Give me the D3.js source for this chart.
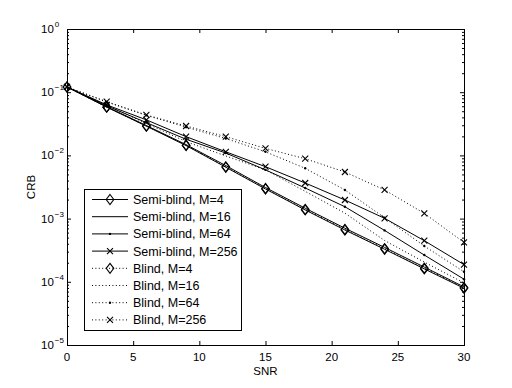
<!DOCTYPE html>
<html><head><meta charset="utf-8">
<script src="https://cdn.jsdelivr.net/npm/d3@7"></script>
<style>body{margin:0;background:#fff}svg{display:block}text{font-family:"Liberation Sans",Arial,sans-serif;fill:#000}</style>
</head><body><div id="c"></div>
<script>
const snr = [0, 3, 6, 9, 12, 15, 18, 21, 24, 27, 30];
const semiM4   = [0.121, 0.058, 0.029, 0.0143, 0.0065, 0.00294, 0.00137, 6.6e-4, 3.27e-4, 1.6e-4, 7.9e-5];
const semiM16  = [0.121, 0.059, 0.0297, 0.0148, 0.0069, 0.0031, 0.00146, 7.05e-4, 3.5e-4, 1.71e-4, 8.3e-5];
const semiM64  = [0.121, 0.061, 0.033, 0.018, 0.0109, 0.0059, 0.00305, 0.00154, 6.5e-4, 2.65e-4, 1.1e-4];
const semiM256 = [0.121, 0.063, 0.0365, 0.0198, 0.0114, 0.00662, 0.00366, 0.00197, 0.00101, 4.47e-4, 1.87e-4];
const blindM4   = [0.121, 0.058, 0.0292, 0.0145, 0.0066, 0.003, 0.0014, 6.75e-4, 3.35e-4, 1.65e-4, 8.1e-5];
const blindM16  = [0.121, 0.062, 0.032, 0.0165, 0.0098, 0.0059, 0.0027, 0.00122, 4.5e-4, 2.05e-4, 9.6e-5];
const blindM64  = [0.121, 0.07, 0.043, 0.028, 0.0185, 0.0114, 0.00625, 0.00284, 0.00103, 3.68e-4, 1.44e-4];
const blindM256 = [0.121, 0.0708, 0.0436, 0.0292, 0.0198, 0.0129, 0.00887, 0.00546, 0.00284, 0.00121, 4.2e-4];
const seriesNames = ["Semi-blind, M=4","Semi-blind, M=16","Semi-blind, M=64","Semi-blind, M=256","Blind, M=4","Blind, M=16","Blind, M=64","Blind, M=256"];
const xTicks = [0, 5, 10, 15, 20, 25, 30];
const yExps = [0, -1, -2, -3, -4, -5];

const series = [
  {name: seriesNames[0], v: semiM4, dash: null, m: "diamond"},
  {name: seriesNames[1], v: semiM16, dash: null, m: null},
  {name: seriesNames[2], v: semiM64, dash: null, m: "dot"},
  {name: seriesNames[3], v: semiM256, dash: null, m: "x"},
  {name: seriesNames[4], v: blindM4, dash: "1,2.4", m: "diamond"},
  {name: seriesNames[5], v: blindM16, dash: "1,2.4", m: null},
  {name: seriesNames[6], v: blindM64, dash: "1,2.4", m: "dot"},
  {name: seriesNames[7], v: blindM256, dash: "1,2.4", m: "x"}
];

const W = 512, H = 388;
const L = 67, R = 464, T = 29, B = 345;
const svg = d3.select("#c").append("svg").attr("width", W).attr("height", H);
const x = d3.scaleLinear().domain([0, 30]).range([L, R]);
const y = d3.scaleLog().domain([1e-5, 1]).range([B, T]);

// axes ticks
const g = svg.append("g");
const minor = [];
for (let e = -5; e < 0; e++) for (let k = 2; k <= 9; k++) minor.push(k * Math.pow(10, e));
g.append("g").attr("transform", `translate(${L},0)`).call(d3.axisRight(y).tickValues(yExps.map(e => Math.pow(10, e))).tickSize(4).tickFormat(""));
g.append("g").attr("transform", `translate(${R},0)`).call(d3.axisLeft(y).tickValues(yExps.map(e => Math.pow(10, e))).tickSize(4).tickFormat(""));
g.append("g").attr("transform", `translate(${L},0)`).call(d3.axisRight(y).tickValues(minor).tickSize(2).tickFormat(""));
g.append("g").attr("transform", `translate(${R},0)`).call(d3.axisLeft(y).tickValues(minor).tickSize(2).tickFormat(""));
g.append("g").attr("transform", `translate(0,${B})`).call(d3.axisTop(x).tickValues(xTicks).tickSize(4).tickFormat(""));
g.append("g").attr("transform", `translate(0,${T})`).call(d3.axisBottom(x).tickValues(xTicks).tickSize(4).tickFormat(""));
g.selectAll(".domain").remove();
g.selectAll(".tick line").attr("stroke", "#000").attr("stroke-width", 1);

svg.append("rect").attr("x", L + 0.5).attr("y", T + 0.5).attr("width", R - L).attr("height", B - T)
  .attr("fill", "none").attr("stroke", "#000").attr("stroke-width", 1);

// tick labels
xTicks.forEach(t => {
  svg.append("text").attr("x", x(t)).attr("y", B + 16).attr("text-anchor", "middle").attr("font-size", 11.5).text(t);
});
yExps.forEach(e => {
  const yy = y(Math.pow(10, e));
  const t = svg.append("text").attr("x", 41).attr("y", yy + 4).attr("font-size", 11.5);
  t.append("tspan").text("10");
  t.append("tspan").attr("dy", -6).attr("dx", 1).attr("font-size", 8).text(e === 0 ? "0" : "\u2212" + (-e));
});
svg.append("text").attr("x", x(15)).attr("y", 375).attr("text-anchor", "middle").attr("font-size", 11.5).text("SNR");
svg.append("text").attr("transform", "translate(35,187) rotate(-90)").attr("text-anchor", "middle").attr("font-size", 11.5).text("CRB");

// lines
const line = d3.line().x((d, i) => x(snr[i])).y(d => y(d));
function marker(sel, type, cx, cy) {
  if (type === "diamond") {
    sel.append("path").attr("d", `M${cx},${cy - 5}L${cx + 3.8},${cy}L${cx},${cy + 5}L${cx - 3.8},${cy}Z`)
      .attr("fill", "none").attr("stroke", "#000").attr("stroke-width", 1.1);
  } else if (type === "x") {
    sel.append("path").attr("d", `M${cx - 3},${cy - 3}L${cx + 3},${cy + 3}M${cx - 3},${cy + 3}L${cx + 3},${cy - 3}`)
      .attr("stroke", "#000").attr("stroke-width", 1.1);
  } else if (type === "dot") {
    sel.append("circle").attr("cx", cx).attr("cy", cy).attr("r", 1.2).attr("fill", "#000");
  }
}
const plot = svg.append("g");
series.forEach(s => {
  plot.append("path").attr("d", line(s.v)).attr("fill", "none").attr("stroke", "#000")
    .attr("stroke-width", 1).attr("stroke-dasharray", s.dash);
  if (s.m) s.v.forEach((v, i) => marker(plot, s.m, x(snr[i]), y(v)));
});

// legend
const lg = svg.append("g");
lg.append("rect").attr("x", 84.5).attr("y", 189.5).attr("width", 157).attr("height", 141)
  .attr("fill", "#fff").attr("stroke", "#000").attr("stroke-width", 1);
series.forEach((s, i) => {
  const yy = 199.5 + i * 17.2;
  lg.append("line").attr("x1", 92).attr("x2", 128).attr("y1", yy).attr("y2", yy)
    .attr("stroke", "#000").attr("stroke-width", 1).attr("stroke-dasharray", s.dash);
  if (s.m) marker(lg, s.m, 110, yy);
  lg.append("text").attr("x", 133).attr("y", yy + 4.5).attr("font-size", 12.5).text(s.name);
});
</script></body></html>
